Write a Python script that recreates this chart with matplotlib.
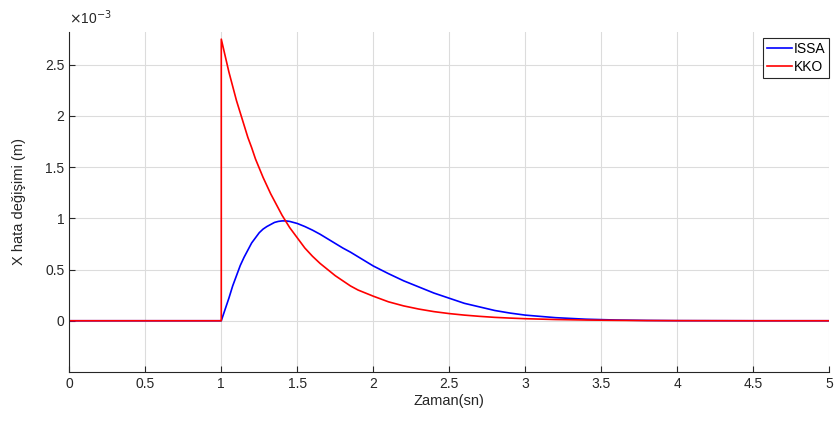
import matplotlib.pyplot as plt
from matplotlib.ticker import FuncFormatter

plt.rcParams["font.family"] = ["Liberation Sans", "DejaVu Sans"]

# values in units of 1e-3 m
t_issa = [0.0, 1.0, 1.025, 1.05, 1.075, 1.1, 1.125, 1.15, 1.175, 1.2, 1.225,
          1.25, 1.275, 1.3, 1.325, 1.35, 1.375, 1.4, 1.425, 1.45, 1.475, 1.5,
          1.55, 1.6, 1.65, 1.7, 1.75, 1.8, 1.85, 1.9, 1.95, 2.0, 2.1, 2.2, 2.3,
          2.4, 2.5, 2.6, 2.7, 2.8, 2.9, 3.0, 3.2, 3.4, 3.6, 3.8, 4.0, 4.5, 5.0]
x_issa = [0.0, 0.0, 0.11, 0.22, 0.34, 0.44, 0.54, 0.62, 0.69, 0.76, 0.81,
          0.86, 0.895, 0.92, 0.94, 0.96, 0.97, 0.975, 0.975, 0.97, 0.96, 0.95,
          0.92, 0.885, 0.845, 0.80, 0.755, 0.71, 0.67, 0.625, 0.58, 0.535, 0.46,
          0.39, 0.33, 0.27, 0.22, 0.17, 0.135, 0.10, 0.075, 0.055, 0.03, 0.015,
          0.007, 0.003, 0.001, 0.0, 0.0]

t_kko = [0.0, 1.0, 1.0, 1.025, 1.05, 1.075, 1.1, 1.125, 1.15, 1.175, 1.2,
         1.225, 1.25, 1.275, 1.3, 1.325, 1.35, 1.375, 1.4, 1.425, 1.45, 1.475,
         1.5, 1.55, 1.6, 1.65, 1.7, 1.75, 1.8, 1.85, 1.9, 1.95, 2.0, 2.1, 2.2,
         2.3, 2.4, 2.5, 2.6, 2.7, 2.8, 2.9, 3.0, 3.2, 3.4, 3.6, 3.8, 4.0, 4.5,
         5.0]
x_kko = [0.0, 0.0, 2.75, 2.59, 2.43, 2.29, 2.15, 2.03, 1.91, 1.79, 1.69,
         1.58, 1.49, 1.40, 1.32, 1.24, 1.17, 1.10, 1.03, 0.97, 0.91, 0.86,
         0.81, 0.71, 0.63, 0.56, 0.50, 0.44, 0.39, 0.34, 0.30, 0.27, 0.24, 0.185,
         0.145, 0.114, 0.089, 0.07, 0.055, 0.043, 0.033, 0.026, 0.020, 0.012,
         0.007, 0.004, 0.002, 0.001, 0.0, 0.0]

xticks = [0, 0.5, 1, 1.5, 2, 2.5, 3, 3.5, 4, 4.5, 5]
yticks = [0, 0.5, 1, 1.5, 2, 2.5]

fig = plt.figure(figsize=(8.35, 4.32), dpi=100)
ax = fig.add_axes([0.083, 0.139, 0.91, 0.787])

ax.plot(t_issa, x_issa, color="#0000ff", lw=1.2, label="ISSA")
ax.plot(t_kko, x_kko, color="#ff0000", lw=1.2, label="KKO")

ax.set_xlim(0, 5)
ax.set_ylim(-0.5, 2.82)
ax.set_xticks(xticks)
ax.set_yticks(yticks)
fmt = FuncFormatter(lambda v, p: "%g" % v)
ax.xaxis.set_major_formatter(fmt)
ax.yaxis.set_major_formatter(fmt)

ax.grid(True, color="#dcdcdc", lw=0.8)
ax.set_axisbelow(True)
for s in ["top", "right"]:
    ax.spines[s].set_visible(False)
ax.spines["left"].set_color("#262626")
ax.spines["bottom"].set_color("#262626")
ax.tick_params(direction="in", length=4, labelsize=10, colors="#262626",
               labelcolor="#262626")

ax.set_xlabel("Zaman(sn)", fontsize=10.5, color="#262626", labelpad=2)
ax.set_ylabel("X hata değişimi (m)", fontsize=10.5, color="#262626", labelpad=14)
ax.text(0.0, 1.015, r"$\times$10$^{-3}$", transform=ax.transAxes,
        fontsize=10, color="#262626", va="bottom", ha="left")

leg = ax.legend(loc="upper right", bbox_to_anchor=(1.004, 0.99), fontsize=10,
                handlelength=1.8, handletextpad=0.1, borderpad=0.3,
                labelspacing=0.25, borderaxespad=0.2, fancybox=False,
                framealpha=1)
leg.get_frame().set_edgecolor("#262626")
leg.get_frame().set_linewidth(0.8)

fig.savefig("out.png", dpi=100)
